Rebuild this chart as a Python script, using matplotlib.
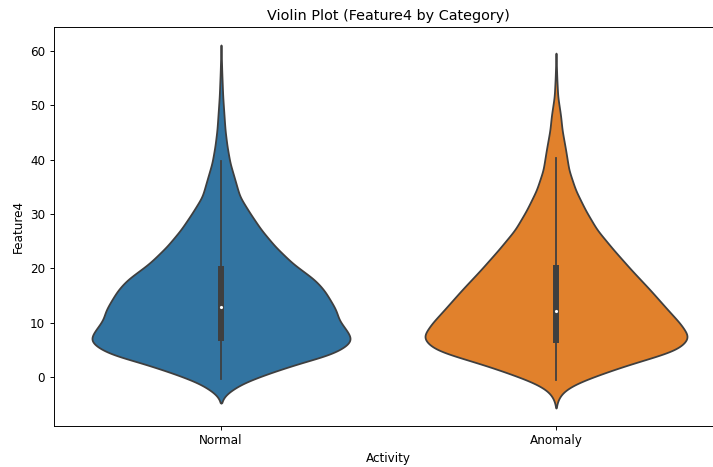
import numpy as np
import matplotlib.pyplot as plt

categories = ["Normal", "Anomaly"]
colors = ["#3274a1", "#e1812c"]

# violin outline: Feature4 value -> relative density (max = 1)
normal_levels = [-4.8, -3.6, -3.0, -2.4, -1.2, 0.0, 0.7, 1.2, 2.5, 4.0, 5.0, 6.0, 6.8, 7.8,
                 8.7, 10.5, 12.3, 14.2, 16.0, 17.9, 20.9, 24.0, 27.1, 30.2, 33.2, 36.3,
                 39.4, 42.5, 45.5, 51.6, 56.0, 61.1]
normal_density = [0.0, 0.02, 0.044, 0.08, 0.155, 0.28, 0.355, 0.42, 0.578, 0.80, 0.89, 0.95,
                  0.978, 0.96, 0.935, 0.88, 0.86, 0.815, 0.77, 0.70, 0.535, 0.405, 0.30,
                  0.215, 0.14, 0.104, 0.067, 0.045, 0.03, 0.013, 0.006, 0.0]

anomaly_levels = [-5.7, -4.5, -3.4, -2.4, -1.2, 0.0, 1.2, 2.5, 3.8, 5.0, 6.2, 7.4, 8.7, 9.9,
                  12.3, 16.0, 19.7, 23.4, 27.1, 30.7, 34.4, 38.1, 41.8, 45.5, 48.0, 51.6,
                  55.0, 59.6]
anomaly_density = [0.0, 0.01, 0.03, 0.067, 0.15, 0.274, 0.41, 0.57, 0.75, 0.896, 0.96, 0.993,
                   0.96, 0.926, 0.837, 0.704, 0.563, 0.43, 0.306, 0.22, 0.146, 0.096, 0.072,
                   0.045, 0.035, 0.013, 0.006, 0.0]

# box stats: whisker low, q1, median, q3, whisker high
normal_box = [-0.4, 6.7, 12.8, 20.5, 39.8]
anomaly_box = [-0.6, 6.3, 12.2, 20.6, 40.3]

levels = [normal_levels, anomaly_levels]
dens = [normal_density, anomaly_density]
boxes = [normal_box, anomaly_box]

# original looks like a larger figure shrunk down, so render at a lower dpi
fig = plt.figure(figsize=(713 / 86, 467 / 86), dpi=86)
ax = fig.add_axes([53.5 / 713, 1 - 426 / 467, 670 / 713, 399 / 467])

half = 0.4
for i in range(2):
    lv = np.array(levels[i])
    d = np.array(dens[i])
    y = np.linspace(lv[0], lv[-1], 600)
    w = np.interp(y, lv, d)
    # light smoothing of the outline
    k = np.exp(-0.5 * (np.linspace(-3, 3, 41)) ** 2)
    k /= k.sum()
    wp = np.pad(w, 20, mode="edge")
    w = np.convolve(wp, k, mode="valid")
    w[0] = w[-1] = 0
    ax.fill_betweenx(y, i - half * w, i + half * w, facecolor=colors[i],
                     edgecolor="#3f3f3f", linewidth=1.5, zorder=2)
    lo, q1, med, q3, hi = boxes[i]
    ax.plot([i, i], [lo, hi], color="#3f3f3f", linewidth=1.5, zorder=3)
    ax.plot([i, i], [q1, q3], color="#3f3f3f", linewidth=5, solid_capstyle="butt", zorder=3)
    ax.scatter([i], [med], s=7, color="white", zorder=4, linewidths=0)

ax.set_xlim(-0.5, 1.5)
ax.set_ylim(-9.0, 64.4)
ax.set_xticks([0, 1])
ax.set_xticklabels(categories)
ax.set_yticks([0, 10, 20, 30, 40, 50, 60])
ax.set_xlabel("Activity")
ax.set_ylabel("Feature4")
ax.set_title("Violin Plot (Feature4 by Category)")

fig.savefig("out.png", dpi=86)
